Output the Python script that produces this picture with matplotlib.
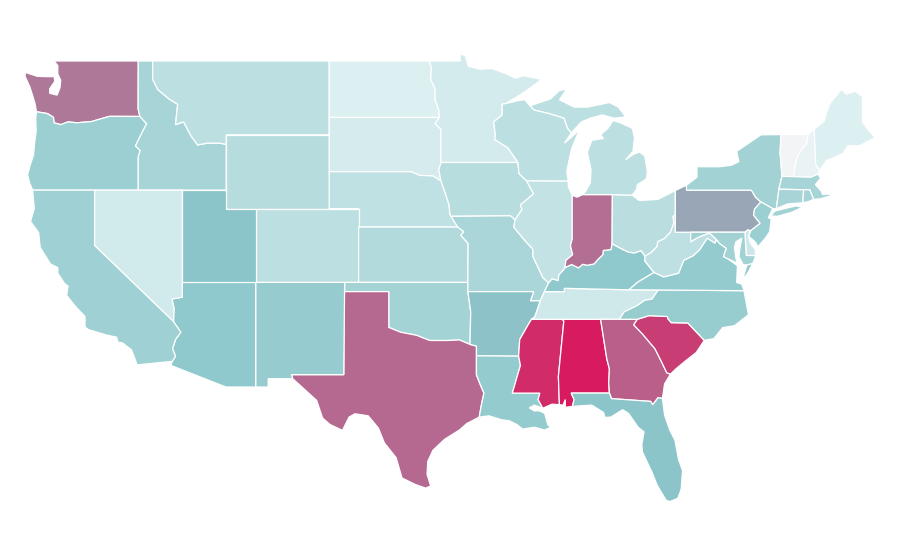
import matplotlib
matplotlib.use("Agg")
import matplotlib.pyplot as plt
from matplotlib.colors import LinearSegmentedColormap

# shared borders, lon/lat
OHIO_R = [(-80.52,40.64),(-80.67,40.58),(-80.62,40.2),(-80.85,39.72),(-81.25,39.38),(-81.72,39.2),(-81.75,38.95),(-82.2,38.6),(-82.58,38.42),(-82.85,38.72),(-83.3,38.6),(-83.7,38.64),(-84.25,38.85),(-84.82,39.10)]
OHIO_R2 = [(-84.82,39.10),(-84.9,38.78),(-85.42,38.73),(-85.45,38.5),(-85.75,38.27),(-86.05,38.0),(-86.5,37.93),(-86.82,37.98),(-87.1,37.79),(-87.57,37.97),(-88.03,37.8)]
OHIO_R3 = [(-88.03,37.8),(-88.16,37.65),(-88.45,37.4),(-88.48,37.1),(-88.9,37.2),(-89.13,36.98)]
RED_N = [(-97.23,49),(-97.1,48.6),(-97.15,48.0),(-96.85,47.5),(-96.85,46.9),(-96.6,46.35),(-96.56,45.94)]
RED_S = [(-94.48,33.64),(-95.2,33.88),(-96.0,33.85),(-96.6,33.85),(-97.2,33.85),(-97.7,34.0),(-98.1,34.13),(-99.2,34.3),(-100,34.56)]
SNAKE = [(-116.92,45.995),(-116.46,45.6),(-116.85,45.0),(-117.22,44.4),(-116.9,44.15),(-117.03,43.8),(-117.03,42)]
COLUMBIA = [(-116.92,45.995),(-118.98,46.0),(-119.3,45.93),(-120.2,45.72),(-121.2,45.65),(-121.8,45.7),(-122.3,45.55),(-122.75,45.65),(-122.8,45.95),(-123.2,46.15),(-123.95,46.25)]
BITTERROOT = [(-116.05,49),(-116.05,48.0),(-115.7,47.45),(-114.95,46.95),(-114.35,46.65),(-114.5,45.55),(-113.95,45.7),(-113.45,44.95),(-113.0,44.45),(-112.3,44.55),(-111.5,44.55),(-111.05,44.48)]
MN_WI = [(-92.02,46.7),(-92.29,46.66),(-92.29,46.07),(-92.87,45.7),(-92.75,45.0),(-92.8,44.75),(-91.9,44.3),(-91.22,43.5)]
MISS_IA = [(-91.22,43.5),(-91.15,42.9),(-90.64,42.51),(-90.15,41.8),(-91.05,41.2),(-90.95,40.95),(-91.42,40.38)]
MISS_MO = [(-91.42,40.38),(-91.5,40.0),(-90.73,39.25),(-90.2,38.8),(-90.2,38.4),(-89.52,37.25),(-89.13,36.98)]
MISS_AR = [(-89.7,36.0),(-90.07,35.13),(-90.3,35.0),(-90.6,34.6),(-91.1,33.9),(-91.17,33.0)]
MISS_LA = [(-91.17,33.0),(-91.05,32.5),(-91.6,31.0),(-89.73,31.0),(-89.85,30.65),(-89.53,30.18)]
MO_RIVER = [(-95.77,40.58),(-95.85,40.7),(-95.9,41.2),(-96.1,41.7),(-96.45,42.5)]
KS_MO = [(-94.62,37),(-94.61,39.11),(-95.1,39.55),(-94.9,39.75),(-95.31,40)]
WABASH = [(-87.53,39.35),(-87.65,39.0),(-87.5,38.5),(-87.95,38.2),(-88.03,37.8)]
SAVANNAH = [(-83.1,35.0),(-83.35,34.7),(-82.75,34.2),(-81.9,33.4),(-81.4,32.6),(-81.1,32.1),(-80.85,32.03)]
APPAL = [(-81.68,36.59),(-82.1,36.1),(-82.6,36.03),(-83.1,35.75),(-84.0,35.4),(-84.32,35.0)]
SC_NC = [(-83.1,35.0),(-82.3,35.2),(-81.05,35.15),(-81.04,35.05),(-80.8,34.82),(-79.67,34.8),(-78.55,33.86)]
VA_WV = [(-81.97,37.54),(-81.3,37.3),(-80.3,37.5),(-79.95,38.2),(-79.3,38.45),(-78.87,38.77),(-78.35,39.4),(-77.83,39.13),(-77.72,39.32)]
MD_WV = [(-77.72,39.32),(-78.2,39.68),(-78.4,39.62),(-78.95,39.45),(-79.48,39.2),(-79.48,39.72)]
PA_EAST = [(-75.35,42.0),(-75.05,41.6),(-74.7,41.36),(-75.13,40.98),(-75.2,40.65),(-74.75,40.2),(-75.4,39.8)]
AZ_CA = [(-114.72,32.72),(-114.5,33.0),(-114.7,33.4),(-114.5,33.9),(-114.14,34.3),(-114.63,34.87)]
AZ_NV = [(-114.63,34.87),(-114.63,35.0),(-114.6,35.6),(-114.74,36.1),(-114.04,36.2)]
CT_VT = [(-73.27,42.75),(-73.35,43.6),(-73.4,44.0),(-73.34,45.01)]
NH_VT = [(-72.46,42.73),(-72.45,43.0),(-72.3,43.6),(-72.05,44.1),(-71.6,44.5),(-71.5,45.01)]

WA = [(-122.76,49),(-117.03,49),(-117.04,46.42)] + COLUMBIA + [(-124.05,46.7),(-124.2,47.1),(-124.4,47.6),(-124.73,48.17),(-124.7,48.38),(-123.9,48.17),(-123.2,48.15),(-122.75,48.15),(-122.7,47.9),(-123.05,47.5),(-123.05,47.25),(-122.55,47.15),(-122.35,47.55),(-122.3,47.95),(-122.5,48.3),(-122.5,48.5),(-122.5,48.75)]
OR = COLUMBIA + [(-124.0,45.9),(-123.97,45.2),(-124.07,44.6),(-124.15,43.9),(-124.4,43.3),(-124.55,42.84),(-124.42,42.4),(-124.21,42.0),(-120,42)] + SNAKE[::-1]
ID = [(-117.03,49)] + BITTERROOT + [(-111.05,42)] + SNAKE[::-1] + [(-117.04,46.42)]
MT = [(-104.05,49),(-104.05,45),(-111.05,45)] + BITTERROOT[::-1]
WY = [(-111.05,45),(-104.05,45),(-104.05,41),(-111.05,41)]
ND = [(-104.05,49)] + RED_N + [(-104.05,45.94)]
SD = [(-104.05,45.94),(-96.56,45.94),(-96.85,45.6),(-96.45,45.3),(-96.45,43.5),(-96.6,43.1),(-96.45,42.5),(-97.0,42.77),(-97.9,42.8),(-98.5,43.0),(-104.05,43)]
NE = [(-104.05,43),(-98.5,43.0),(-97.9,42.8),(-97.0,42.77)] + MO_RIVER[::-1] + [(-95.31,40),(-102.05,40),(-102.05,41),(-104.05,41)]
CO = [(-109.05,41),(-102.05,41),(-102.05,37),(-109.05,37)]
KS = [(-102.05,40)] + KS_MO[::-1] + [(-102.05,37)]
OK = [(-103,37),(-94.62,37),(-94.62,36.5),(-94.43,35.4)] + RED_S + [(-100,36.5),(-103,36.5)]
TX = [(-103.04,36.5),(-100,36.5)] + RED_S[::-1] + [(-94.04,33.55),(-94.04,33.02),(-94.04,31.99),(-93.8,31.5),(-93.53,31.0),(-93.72,30.3),(-93.85,29.7),(-94.7,29.35),(-95.2,29.0),(-96.2,28.5),(-97.0,27.9),(-97.35,27.3),(-97.4,26.6),(-97.15,25.96),(-97.5,25.85),(-98.2,26.05),(-99.1,26.4),(-99.5,27.5),(-100.3,28.3),(-100.7,29.1),(-101.4,29.77),(-102.3,29.88),(-102.7,29.7),(-103.15,28.98),(-104.0,29.3),(-104.5,29.65),(-104.9,30.6),(-106.0,31.4),(-106.53,31.78),(-106.62,32),(-103.06,32.0)]
NM = [(-109.05,37),(-103,37),(-103.06,32.0),(-106.62,32),(-106.53,31.78),(-108.2,31.78),(-108.2,31.33),(-109.05,31.33)]
AZ = [(-114.04,37),(-109.05,37),(-109.05,31.33),(-111.07,31.33),(-114.81,32.5)] + AZ_CA + AZ_NV
UT = [(-114.04,42),(-111.05,42),(-111.05,41),(-109.05,41),(-109.05,37),(-114.04,37)]
NV = [(-120,42),(-114.04,42),(-114.04,37)] + AZ_NV[::-1] + [(-120,39)]
CA = [(-124.21,42),(-120,42),(-120,39)] + AZ_CA[::-1] + [(-117.12,32.53),(-117.25,32.85),(-117.5,33.35),(-118.1,33.72),(-118.4,33.75),(-118.5,34.03),(-119.2,34.15),(-120.45,34.45),(-120.65,34.6),(-120.65,35.15),(-121.3,35.7),(-121.9,36.3),(-121.8,36.8),(-122.05,36.95),(-122.5,37.5),(-122.5,37.8),(-123.0,38.0),(-123.7,38.9),(-123.8,39.7),(-124.35,40.3),(-124.1,41.0)]
MN = [(-95.15,49),(-95.15,49.38),(-94.8,49.3),(-94.6,48.72),(-93.8,48.55),(-93.0,48.6),(-92.0,48.3),(-91.4,48.07),(-90.8,48.2),(-89.6,48.0),(-90.8,47.3)] + MN_WI + [(-96.45,43.5),(-96.45,45.3),(-96.85,45.6)] + RED_N[::-1]
IA = [(-96.45,43.5)] + MISS_IA + [(-91.73,40.61)] + MO_RIVER + [(-96.6,43.1)]
MO = [(-95.77,40.58),(-91.73,40.61)] + MISS_MO + [(-89.42,36.5),(-89.7,36.0),(-90.37,36.0),(-90.15,36.5),(-94.62,36.5)] + KS_MO
AR = [(-94.62,36.5),(-90.15,36.5),(-90.37,36.0)] + MISS_AR + [(-94.04,33.02),(-94.04,33.55),(-94.48,33.64),(-94.43,35.4)]
LA = [(-94.04,33.02)] + MISS_LA + [(-90.1,30.35),(-90.45,30.2),(-90.1,30.03),(-89.8,30.05),(-89.4,29.9),(-89.2,29.3),(-89.0,29.15),(-89.4,29.0),(-90.1,29.15),(-90.9,29.05),(-91.3,29.3),(-91.8,29.5),(-92.3,29.55),(-93.2,29.77),(-93.85,29.7),(-93.72,30.3),(-93.53,31.0),(-93.8,31.5),(-94.04,31.99)]
MS = [(-90.3,35.0),(-88.2,35.0),(-88.1,34.9),(-88.47,31.9),(-88.4,30.37),(-88.9,30.4)] + MISS_LA[::-1] + MISS_AR[::-1][:-2]
AL = [(-88.2,35.0),(-85.6,35.0),(-85.18,32.87),(-85.0,32.3),(-85.05,31.55),(-85.0,31.0),(-87.6,31.0),(-87.4,30.65),(-87.52,30.28),(-88.0,30.23),(-88.0,30.65),(-88.15,30.35),(-88.4,30.37),(-88.47,31.9),(-88.1,34.9)]
TN = [(-90.3,35.0),(-88.2,35.0),(-85.6,35.0)] + APPAL[::-1] + [(-83.67,36.6),(-86.5,36.65),(-88.07,36.68),(-88.07,36.5),(-89.42,36.5),(-89.7,36.0),(-90.07,35.13)]
KY = OHIO_R[8:] + OHIO_R2[1:] + OHIO_R3[1:] + [(-89.42,36.5),(-88.07,36.5),(-88.07,36.68),(-86.5,36.65),(-83.67,36.6),(-83.1,37.0),(-81.97,37.54),(-82.6,38.17)]
IL = [(-90.64,42.51),(-87.8,42.5),(-87.8,42.2),(-87.53,41.72)] + WABASH + OHIO_R3[1:] + MISS_MO[::-1] + MISS_IA[3:6][::-1]
IN = [(-87.53,41.72),(-87.2,41.62),(-86.82,41.76),(-84.8,41.76)] + OHIO_R2 + WABASH[::-1][1:]
OH = [(-84.8,41.76),(-83.45,41.73),(-83.0,41.45),(-82.7,41.45),(-81.7,41.5),(-80.52,41.98)] + OHIO_R
MI_LOWER = [(-86.82,41.76),(-84.8,41.76),(-83.45,41.73),(-83.15,42.05),(-83.1,42.3),(-82.5,42.6),(-82.42,43.0),(-82.6,43.85),(-82.95,44.07),(-83.35,43.95),(-83.9,43.65),(-83.4,44.1),(-83.3,44.85),(-83.45,45.35),(-84.2,45.63),(-84.75,45.78),(-85.1,45.35),(-85.6,45.0),(-85.4,44.8),(-86.2,44.7),(-86.5,44.05),(-86.25,43.1),(-86.3,42.4),(-86.6,41.95)]
MI_UPPER = [(-90.4,46.57),(-89.0,46.95),(-88.4,47.4),(-87.9,47.47),(-88.4,46.9),(-87.4,46.5),(-86.5,46.5),(-85.0,46.75),(-84.4,46.5),(-84.1,46.2),(-83.9,45.97),(-84.7,45.9),(-85.5,46.08),(-86.3,45.9),(-86.9,45.7),(-87.6,45.1),(-87.85,45.35),(-88.1,45.9),(-89.1,46.15),(-90.12,46.34)]
WI = [(-92.02,46.7),(-91.2,46.85),(-90.75,46.9),(-90.4,46.57),(-90.12,46.34),(-89.1,46.15),(-88.1,45.9),(-87.85,45.35),(-87.6,45.1),(-88.05,44.55),(-87.05,45.25),(-87.55,44.3),(-87.75,43.6),(-87.9,43.0),(-87.8,42.5),(-90.64,42.51),(-91.15,42.9)] + MN_WI[::-1][:-1]
GA = [(-85.6,35.0)] + SAVANNAH + [(-81.25,31.5),(-81.4,30.71),(-81.7,30.75),(-82.05,30.37),(-82.2,30.55),(-84.86,30.7),(-85.0,31.0),(-85.05,31.55),(-85.0,32.3),(-85.18,32.87)]
FL = [(-87.6,31.0),(-85.0,31.0),(-84.86,30.7),(-82.2,30.55),(-82.05,30.37),(-81.7,30.75),(-81.4,30.71),(-81.25,29.8),(-80.9,29.0),(-80.55,28.45),(-80.3,27.4),(-80.03,26.8),(-80.12,25.8),(-80.35,25.3),(-80.9,25.12),(-81.15,25.2),(-81.75,26.0),(-82.1,26.7),(-82.75,27.8),(-82.8,28.2),(-82.65,28.9),(-83.05,29.15),(-83.7,29.9),(-84.1,30.1),(-84.9,29.7),(-85.3,29.68),(-85.4,29.95),(-86.2,30.35),(-87.52,30.28),(-87.4,30.65)]
SC = SC_NC + [(-79.1,33.2),(-79.9,32.7),(-80.5,32.3)] + SAVANNAH[::-1]
NC = [(-84.32,35.0)] + SC_NC + [(-77.9,33.95),(-77.3,34.55),(-76.5,34.65),(-75.55,35.25),(-75.85,36.55)] + APPAL
VA = [(-75.85,36.55),(-81.68,36.59),(-83.67,36.6),(-83.1,37.0)] + VA_WV + [(-77.5,39.1),(-77.05,38.85),(-77.25,38.4),(-76.95,38.28),(-76.3,37.9),(-76.35,37.0),(-76.0,36.9)]
VA_SHORE = [(-75.95,37.15),(-75.65,37.95),(-75.25,38.03),(-75.6,37.5)]
WV = [(-80.52,40.64),(-80.52,39.72)] + MD_WV[::-1] + VA_WV[::-1] + [(-82.6,38.17)] + OHIO_R[:9][::-1]
PA = [(-80.52,41.98),(-79.76,42.27),(-79.76,42.0)] + PA_EAST + [(-75.6,39.84),(-75.79,39.72),(-80.52,39.72)]
NY = [(-79.76,42.27),(-79.76,42.0)] + PA_EAST[:3] + [(-73.9,41.0),(-73.65,41.0),(-73.48,42.05)] + CT_VT + [(-74.7,45.0),(-75.8,44.4),(-76.35,44.1),(-76.2,43.55),(-76.7,43.35),(-77.5,43.27),(-79.05,43.27),(-79.05,42.7)]
LONG_ISLAND = [(-74.03,40.6),(-73.75,40.87),(-72.3,41.15),(-71.87,41.07),(-72.6,40.8),(-73.6,40.58)]
NJ = PA_EAST[2:] + [(-75.55,39.5),(-75.1,39.2),(-74.9,38.93),(-74.4,39.4),(-74.1,39.75),(-74.0,40.45),(-74.2,40.5),(-73.9,41.0)]
DE = [(-75.79,39.72),(-75.6,39.84),(-75.4,39.8),(-75.55,39.5),(-75.4,39.1),(-75.1,38.8),(-75.05,38.45),(-75.7,38.46)]
MD = [(-79.48,39.72),(-75.79,39.72),(-75.7,38.46),(-75.05,38.45),(-75.25,38.03),(-75.65,37.95),(-75.9,37.95),(-76.2,38.4),(-76.1,39.0),(-76.0,39.4),(-76.4,39.2),(-76.5,38.9),(-76.4,38.3),(-76.3,38.05),(-76.95,38.28),(-77.25,38.4),(-77.05,38.85),(-77.5,39.1)] + MD_WV[:-1]
VT = CT_VT + NH_VT[::-1]
NH = NH_VT + [(-71.08,45.3),(-70.98,43.4),(-70.7,43.07),(-70.82,42.87),(-71.3,42.7)]
ME = [(-71.08,45.3),(-70.4,45.75),(-70.25,46.2),(-70.0,46.7),(-69.23,47.46),(-68.9,47.2),(-68.3,47.36),(-67.8,47.07),(-67.8,45.7),(-67.45,45.3),(-66.95,44.85),(-68.0,44.4),(-68.8,44.4),(-69.1,44.0),(-69.8,43.75),(-70.25,43.6),(-70.7,43.07),(-70.98,43.4)]
MA = [(-73.48,42.05),(-73.27,42.75),(-72.46,42.73),(-71.3,42.7),(-70.82,42.87),(-70.65,42.65),(-71.0,42.3),(-70.6,41.95),(-70.5,41.77),(-70.0,41.8),(-70.2,42.07),(-69.95,41.7),(-70.65,41.53),(-71.12,41.5),(-71.38,42.02),(-71.8,42.02)]
CT = [(-73.48,42.05),(-71.8,42.02),(-71.85,41.32),(-72.9,41.25),(-73.65,41.0)]
RI = [(-71.8,42.02),(-71.38,42.02),(-71.12,41.5),(-71.5,41.37),(-71.85,41.32)]

states = ["WA","OR","ID","MT","WY","ND","SD","NE","CO","KS","OK","TX","NM","AZ","UT","NV","CA","MN","IA","MO","AR","LA","MS","AL","TN","KY","IL","IN","OH","MI","WI","GA","FL","SC","NC","VA","WV","PA","NY","NJ","DE","MD","VT","NH","ME","MA","CT","RI"]
values = [.73,.42,.37,.27,.30,.11,.145,.25,.27,.32,.385,.77,.45,.475,.50,.165,.41,.15,.29,.355,.51,.46,.95,1.0,.175,.475,.24,.755,.28,.27,.27,.80,.50,.90,.44,.46,.26,.59,.39,.42,.18,.39,0,.05,.11,.37,.37,.37]
outlines = {"WA":[WA],"OR":[OR],"ID":[ID],"MT":[MT],"WY":[WY],"ND":[ND],"SD":[SD],"NE":[NE],"CO":[CO],"KS":[KS],"OK":[OK],"TX":[TX],"NM":[NM],"AZ":[AZ],"UT":[UT],"NV":[NV],"CA":[CA],"MN":[MN],"IA":[IA],"MO":[MO],"AR":[AR],"LA":[LA],"MS":[MS],"AL":[AL],"TN":[TN],"KY":[KY],"IL":[IL],"IN":[IN],"OH":[OH],"MI":[MI_LOWER,MI_UPPER],"WI":[WI],"GA":[GA],"FL":[FL],"SC":[SC],"NC":[NC],"VA":[VA,VA_SHORE],"WV":[WV],"PA":[PA],"NY":[NY,LONG_ISLAND],"NJ":[NJ],"DE":[DE],"MD":[MD],"VT":[VT],"NH":[NH],"ME":[ME],"MA":[MA],"CT":[CT],"RI":[RI]}

cmap = LinearSegmentedColormap.from_list("rate", [(0, "#f3f4f6"), (0.11, "#dceff1"), (0.3, "#b6dcde"), (0.5, "#8bc6ca"), (1, "#d81b60")])

fig = plt.figure(figsize=(9, 5.6), dpi=100)
ax = fig.add_axes([0, 0, 1, 1])
for state, value in zip(states, values):
    for ring in outlines[state]:
        lons = [p[0] for p in ring]
        lats = [p[1] for p in ring]
        ax.fill(lons, lats, facecolor=cmap(value), edgecolor="white", linewidth=0.9)

# plain lon/lat axes, calibrated on the state lines of the picture
ax.set_xlim(-124.73 - 25 / 14.71, -124.73 + 875 / 14.71)
ax.set_ylim(49 - 499 / 18.45, 49 + 61 / 18.45)
ax.axis("off")
fig.savefig("out.png", dpi=100)
